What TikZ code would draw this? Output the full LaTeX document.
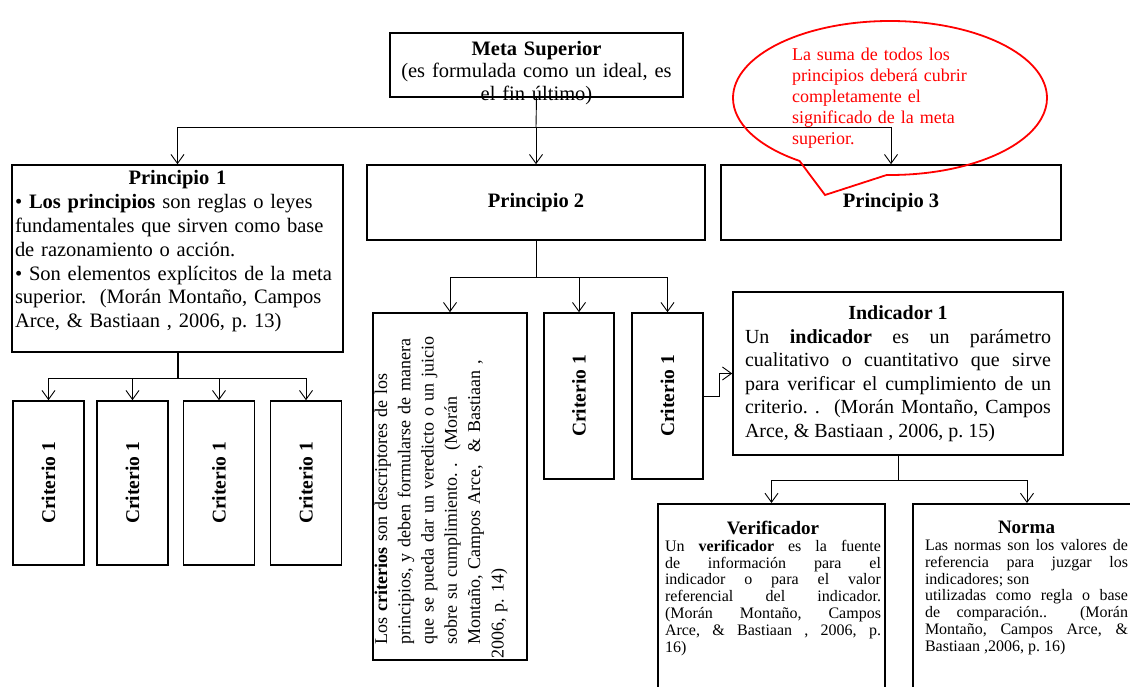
\documentclass[tikz,border=0pt]{standalone}
\usepackage{fontspec}
\setmainfont{Liberation Serif}
\usetikzlibrary{shapes,shapes.callouts,arrows.meta,positioning,calc}
\frenchspacing

\begin{document}
\begin{tikzpicture}[
    x=1pt, y=-1pt,
    box/.style={rectangle, draw, line width=1.6pt, inner sep=2pt},
    bigfont/.style={font=\fontsize{20.5}{23}\selectfont},
    smallfont/.style={font=\fontsize{16}{16.8}\selectfont},
    crit/.style={box, rotate=90, minimum width=164pt, minimum height=71pt, font=\fontsize{19.5}{22}\selectfont\bfseries},
    link/.style={line width=0.9pt},
    arr/.style={link, -{Straight Barb[length=9pt,width=13pt]}}
]
\useasboundingbox (0,0) rectangle (1130,687);
\clip (0,0) rectangle (1130,687);

% Meta Superior
\node (meta) at (536.5,65) [box, minimum width=293pt, minimum height=64pt, text width=291pt, inner sep=0pt, text height=22.5pt, text depth=41.5pt, align=center, font=\fontsize{20.5}{22.5}\selectfont] {
  \textbf{Meta Superior}\\
  (es formulada como un ideal, es\\
  el fin último)
};

% Principios
\node (princ1) at (177.5,258.5) [box, minimum width=331pt, minimum height=187pt, text width=325pt, inner sep=3pt, text height=17pt, text depth=164pt, align=left, font=\fontsize{20.5}{23.8}\selectfont] {
  \hfill\textbf{Principio 1}\hfill\null\\
  • \textbf{Los principios} son reglas o leyes\\
  fundamentales que sirven como base\\
  de razonamiento o acción.\\
  • Son elementos explícitos de la meta\\
  superior.~~(Morán Montaño, Campos\\
  Arce, \& Bastiaan , 2006, p. 13)
};
\node (princ2) at (536,202.5) [box, minimum width=338pt, minimum height=75pt, bigfont] {\textbf{Principio 2}};
\node (princ3) at (891,202.5) [box, minimum width=340pt, minimum height=75pt, bigfont] {\textbf{Principio 3}};

% Criterios del principio 1
\node (crit1) at (48.5,483) [crit] {Criterio 1};
\node (crit2) at (132.5,483) [crit] {Criterio 1};
\node (crit3) at (219,483) [crit] {Criterio 1};
\node (crit4) at (306,483) [crit] {Criterio 1};

% Criterios del principio 2
\node (critlong) at (450,486.5) [box, rotate=90, minimum width=347pt, minimum height=154pt, text width=344pt, inner sep=0pt, text height=14pt, text depth=140pt, align=left, font=\fontsize{18}{23.3}\selectfont] {
  \leftskip=14pt
  Los \textbf{criterios} son descriptores de los\\
  principios, y deben formularse de manera\\
  que se pueda dar un veredicto o un juicio\\
  sobre su cumplimiento. .~~(Morán\\
  Montaño, Campos Arce,~ \& Bastiaan ,\\
  2006, p. 14)
};
\node (critA) at (579,396) [crit, minimum width=166pt, minimum height=70pt] {Criterio 1};
\node (critB) at (667.5,396) [crit, minimum width=166pt, minimum height=71pt] {Criterio 1};

% Indicador
\node (indic) at (898,373.5) [box, minimum width=330pt, minimum height=163pt, text width=306pt, inner sep=0pt, align=justify, font=\fontsize{20}{23.5}\selectfont] {
  \hfill\textbf{Indicador 1}\hfill\null\\
  Un \textbf{indicador} es un parámetro\linebreak
  cualitativo o cuantitativo que sirve\linebreak
  para verificar el cumplimiento de un\linebreak
  criterio. .~~(Morán Montaño, Campos\linebreak
  Arce, \& Bastiaan , 2006, p. 15)
};

% Verificador y Norma
\node (verif) at (771.5,503) [box, anchor=north, minimum width=227pt, minimum height=210pt] {};
\node (veriftxt) [below=18pt of verif.north, xshift=1.5pt, text width=216pt, inner sep=0pt, align=justify, smallfont] {
  \hfill{\fontsize{19}{20}\selectfont\bfseries Verificador}\hfill\null\\
  Un \textbf{verificador} es la fuente\linebreak
  de información para el\linebreak
  indicador o para el valor\linebreak
  referencial del indicador.\linebreak
  (Morán Montaño, Campos\linebreak
  Arce, \& Bastiaan , 2006, p.\linebreak
  16)
};
\node (norma) at (1027,503) [box, anchor=north, minimum width=228pt, minimum height=210pt] {};
\node (normatxt) [below=18pt of norma.north, xshift=-0.5pt, text width=203pt, inner sep=0pt, align=justify, smallfont] {
  \hfill{\fontsize{19}{20}\selectfont\bfseries Norma}\hfill\null\\
  Las normas son los valores de\linebreak
  referencia para juzgar los\linebreak
  indicadores; son\\
  utilizadas como regla o base\linebreak
  de comparación..~~(Morán\linebreak
  Montaño, Campos Arce, \&\linebreak
  Bastiaan ,2006, p. 16)
};

% conectores
\coordinate (bus1) at (536,127);
\draw[link] (meta.south) -- (bus1);
\draw[arr] (bus1) -| (princ1.north);
\draw[arr] (bus1) -- (princ2.north);
\draw[arr] (bus1) -| (princ3.north);

\coordinate (bus2) at (177.5,378);
\draw[link, line width=2pt] (princ1.south) -- (bus2);
\draw[arr] (bus2) -| (crit1.east);
\draw[arr] (bus2) -| (crit2.east);
\draw[arr] (bus2) -| (crit3.east);
\draw[arr] (bus2) -| (crit4.east);

\coordinate (bus3) at (536,277);
\draw[link] (princ2.south) -- (bus3);
\draw[arr] (bus3) -| (critlong.east);
\draw[arr] (bus3) -| (critA.east);
\draw[arr] (bus3) -| (critB.east);
\draw[arr] (critB.south) -- ++(16,0) |- (indic.west);

\coordinate (bus4) at (898,480);
\draw[link] (indic.south) -- (bus4);
\draw[arr] (bus4) -| (verif.north);
\draw[arr] (bus4) -| (norma.north);

% Nota
\node (nota) at (890,98) [ellipse callout, draw=red, line width=1.8pt, text=red, minimum width=314pt, minimum height=154pt, inner sep=0pt, text width=196pt, align=left, callout absolute pointer={(825,195)}, callout pointer arc=34, font=\fontsize{18}{21}\selectfont] {
  La suma de todos los\\
  principios deberá cubrir\\
  completamente el\\
  significado de la meta\\
  superior.
};

\end{tikzpicture}
\end{document}
